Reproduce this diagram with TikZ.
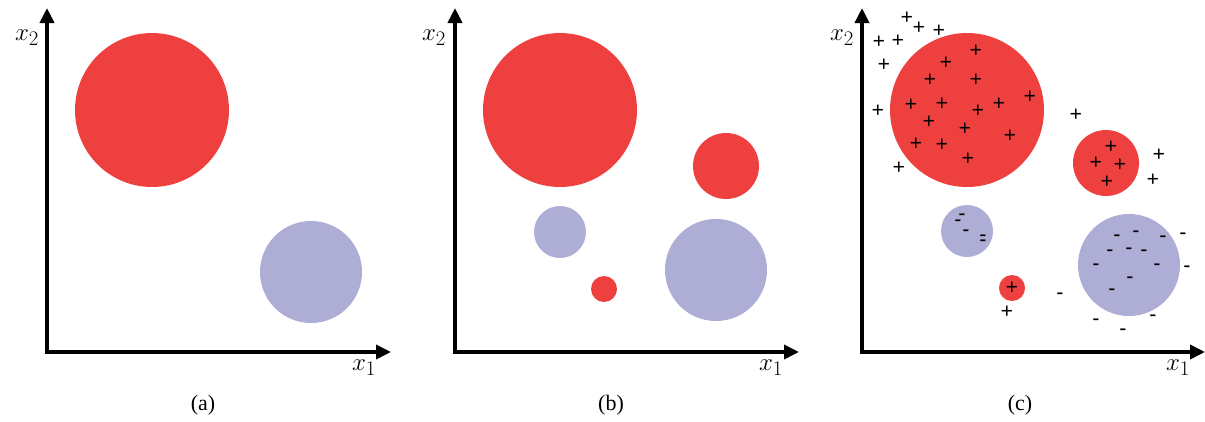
\documentclass[tikz,border=0pt]{standalone}
\usepackage{fontspec}
\newfontfamily\capfont{Liberation Serif}
\usetikzlibrary{arrows.meta}
\definecolor{cred}{RGB}{239,64,64}
\definecolor{cblue}{RGB}{173,173,214}
\tikzset{
  axis/.style={line width=3.6pt,-{Triangle[length=15pt,width=14pt]}},
  redc/.style={fill=cred},
  bluec/.style={fill=cblue},
  axlabel/.style={font=\fontsize{29}{34}\selectfont,inner sep=0pt},
  caption/.style={font=\capfont\fontsize{22}{26}\selectfont,inner sep=0pt},
  pt/.style={font=\capfont\fontsize{22}{22}\selectfont,inner sep=0pt},
  mn/.style={font=\capfont\bfseries\fontsize{20}{20}\selectfont,inner sep=0pt},
}
\begin{document}
\begin{tikzpicture}[x=1pt,y=-1pt]
\useasboundingbox (0,0) rectangle (1205,421);
% ---------- panel (a)
\coordinate (oa) at (47,352);
\coordinate (ya) at (47,8);
\coordinate (xa) at (391,352);
\fill[redc] (152,110) circle[radius=77pt];
\fill[bluec] (311,272) circle[radius=51pt];
\draw[axis] (oa) -- (ya);
\draw[axis] ([xshift=-1.8pt]oa) -- (xa);
\node[axlabel] (x2a) at (27,38) {$x_2$};
\node[axlabel] (x1a) at (364,368) {$x_1$};
\node[caption] (capa) at (203,405) {(a)};
% ---------- panel (b)
\coordinate (ob) at (455,352);
\coordinate (yb) at (455,8);
\coordinate (xb) at (799,352);
\fill[redc] (560,110) circle[radius=77pt];
\fill[redc] (726,166) circle[radius=33pt];
\fill[bluec] (560,232) circle[radius=26pt];
\fill[redc] (604,289) circle[radius=13pt];
\fill[bluec] (716,270) circle[radius=51pt];
\draw[axis] (ob) -- (yb);
\draw[axis] ([xshift=-1.8pt]ob) -- (xb);
\node[axlabel] (x2b) at (434,38) {$x_2$};
\node[axlabel] (x1b) at (771,368) {$x_1$};
\node[caption] (capb) at (611,405) {(b)};
% ---------- panel (c)
\coordinate (oc) at (862,352);
\coordinate (yc) at (862,8);
\coordinate (xc) at (1205,352);
\fill[redc] (967,110) circle[radius=77pt];
\fill[redc] (1106,163) circle[radius=33pt];
\fill[bluec] (967,231) circle[radius=26pt];
\fill[redc] (1012,288) circle[radius=13pt];
\fill[bluec] (1129,265) circle[radius=51pt];
\draw[axis] (oc) -- (yc);
\draw[axis] ([xshift=-1.8pt]oc) -- (xc);
\node[axlabel] (x2c) at (842,38) {$x_2$};
\node[axlabel] (x1c) at (1178,368) {$x_1$};
\node[caption] (capc) at (1020,405) {(c)};
% plus signs
\foreach \px/\py [count=\i] in {907/18,919/28,939/31,879/42,898/41,884/65,976/51,946/63,930/80,976/80,1030/97,911/105,942/104,999/104,878/111,978/111,929/122,965/129,1010/136,916/144,942/145,968/159,899/168,1076/115,1111/147,1096/163,1120/165,1107/182,1159/155,1153/180,1012/288,1007/312}
  \node[pt] (p\i) at (\px,\py) {\bfseries +};
% minus signs
\foreach \px/\py [count=\i] in {962/217,958/223,966/233,983/238,983/243,1117/238,1136/234,1163/239,1183/236,1110/253,1129/251,1144/253,1096/267,1157/267,1187/269,1130/280,1112/292,1060/296,1096/322,1153/318,1123/332}
  \node[mn] (m\i) at (\px,\py) {-};
\end{tikzpicture}
\end{document}
